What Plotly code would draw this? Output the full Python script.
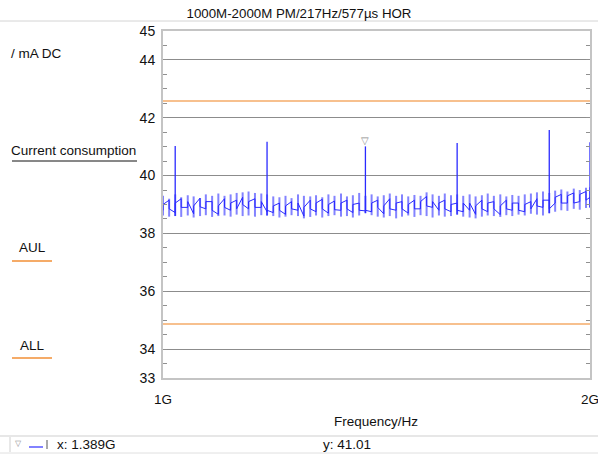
import math
import plotly.graph_objects as go

# ---------------- data ----------------
freq_mhz = [1000, 1010, 1020, 1030, 1041, 1051, 1062, 1072, 1083, 1094,
            1105, 1116, 1127, 1138, 1149, 1161, 1173, 1184, 1196, 1208,
            1220, 1232, 1245, 1257, 1270, 1282, 1295, 1308, 1321, 1335,
            1348, 1361, 1375, 1389, 1403, 1417, 1431, 1445, 1460, 1474,
            1489, 1504, 1519, 1534, 1549, 1565, 1580, 1596, 1612, 1628,
            1645, 1661, 1678, 1694, 1711, 1729, 1746, 1763, 1781, 1799,
            1817, 1835, 1853, 1872, 1890, 1909, 1928, 1948, 1967, 1987, 2000]

low_vals = [38.62, 38.58, 38.60, 38.57, 38.62, 38.55, 38.60, 38.63, 38.57, 38.60,
            38.62, 38.58, 38.65, 38.60, 38.62, 38.58, 38.63, 38.62, 38.60, 38.55,
            38.58, 38.63, 38.60, 38.52, 38.57, 38.62, 38.55, 38.60, 38.63, 38.58,
            38.60, 38.55, 38.62, 38.70, 38.63, 38.58, 38.55, 38.60, 38.52, 38.58,
            38.62, 38.57, 38.63, 38.60, 38.55, 38.62, 38.58, 38.60, 38.65, 38.58,
            38.55, 38.52, 38.58, 38.62, 38.60, 38.57, 38.63, 38.60, 38.65, 38.62,
            38.68, 38.65, 38.62, 38.70, 38.75, 38.80, 38.78, 38.85, 38.82, 38.88, 38.90]

high_vals = [39.30, 39.20, 39.35, 39.25, 39.32, 39.28, 39.22, 39.35, 39.30, 39.38,
             39.30, 39.35, 39.40, 39.42, 39.45, 39.40, 39.38, 39.35, 39.28, 39.25,
             39.30, 39.22, 39.35, 39.30, 39.28, 39.32, 39.25, 39.35, 39.30, 39.38,
             39.28, 39.32, 39.40, 39.30, 39.35, 39.28, 39.32, 39.38, 39.30, 39.35,
             39.28, 39.33, 39.30, 39.42, 39.35, 39.30, 39.38, 39.32, 39.35, 39.30,
             39.35, 39.28, 39.32, 39.38, 39.30, 39.35, 39.28, 39.33, 39.30, 39.35,
             39.38, 39.42, 39.45, 39.40, 39.48, 39.52, 39.45, 39.55, 39.50, 39.58, 39.60]

# current reading: value entering and leaving each frequency step
cur_in = [38.80, 39.15, 38.72, 39.20, 38.90, 38.68, 39.22, 38.85, 39.10, 38.66,
          39.20, 38.80, 39.15, 39.25, 38.85, 39.20, 38.90, 38.75, 38.72, 39.05,
          38.66, 39.10, 38.80, 38.60, 39.15, 38.75, 39.18, 38.70, 39.12, 38.80,
          39.15, 38.72, 39.05, 38.78, 38.75, 39.15, 38.68, 39.20, 38.80, 39.10,
          38.70, 39.15, 38.85, 39.28, 38.90, 38.80, 39.15, 38.75, 39.05, 38.75,
          38.80, 38.66, 39.15, 38.75, 39.10, 38.65, 39.15, 38.80, 39.05, 38.75,
          39.10, 39.20, 38.90, 39.15, 39.05, 39.35, 39.05, 39.40, 39.10, 39.45, 39.25]
cur_out = [39.00, 38.85, 39.05, 38.90, 39.10, 38.95, 38.92, 39.10, 38.80, 38.95,
           38.90, 39.05, 38.85, 39.00, 39.10, 38.90, 39.10, 38.80, 38.95, 38.80,
           38.95, 38.85, 39.05, 38.90, 38.85, 39.05, 38.85, 39.00, 38.82, 39.05,
           38.85, 39.00, 38.80, 38.80, 39.05, 38.90, 38.95, 38.85, 39.05, 38.85,
           39.00, 38.85, 39.10, 38.95, 39.10, 39.05, 38.85, 39.00, 38.80, 39.05,
           39.05, 38.95, 38.85, 39.05, 38.85, 38.95, 38.85, 39.05, 38.80, 39.00,
           38.85, 38.95, 39.15, 38.85, 39.25, 39.05, 39.30, 39.05, 39.35, 39.15, 39.20]

spike_idx = [2, 17, 33, 48, 63, 70]
spike_peak = [41.02, 41.17, 41.01, 41.13, 41.58, 41.15]

aul_value = 42.58
all_value = 34.87

marker_idx = 33
marker_x_text = "x: 1.389G"
marker_y_text = "y: 41.01"

y_tick_vals = [33, 34, 36, 38, 40, 42, 44, 45]
x_tick_vals_hz = [1e9, 2e9]
x_tick_text = ["1G", "2G"]

title_text = "1000M-2000M PM/217Hz/577µs HOR"

# ---------------- geometry helpers (layout only) ----------------
W, H = 598, 454
L, R, T, B = 163, 8, 31, 76
PW = W - L - R
PH = H - T - B


def px(xp):
    return (xp - L) / PW


def py(yp):
    return (H - B - yp) / PH


freq_hz = [f * 1e6 for f in freq_mhz]

# ---------------- traces ----------------
bx, by = [], []
for f, lo, hi in zip(freq_hz, low_vals, high_vals):
    bx += [f, f, None]
    by += [lo, hi, None]

lx, ly = [], []
for f, a, b in zip(freq_hz, cur_in, cur_out):
    lx += [f, f]
    ly += [a, b]

sx, sy = [], []
for i, pk in zip(spike_idx, spike_peak):
    sx += [freq_hz[i], freq_hz[i], None]
    sy += [low_vals[i], pk, None]

orange = "#f5ab68"
blue = "#2a2aff"

fig = go.Figure()
fig.add_trace(go.Scatter(x=bx, y=by, mode="lines",
                         line=dict(color="rgba(100,100,255,0.8)", width=2),
                         hoverinfo="skip", showlegend=False))
fig.add_trace(go.Scatter(x=lx, y=ly, mode="lines",
                         line=dict(color=blue, width=1),
                         showlegend=False))
fig.add_trace(go.Scatter(x=sx, y=sy, mode="lines",
                         line=dict(color=blue, width=1.3),
                         showlegend=False))
fig.add_trace(go.Scatter(x=[freq_hz[0], freq_hz[-1]], y=[aul_value, aul_value],
                         mode="lines", line=dict(color=orange, width=1.3),
                         showlegend=False))
fig.add_trace(go.Scatter(x=[freq_hz[0], freq_hz[-1]], y=[all_value, all_value],
                         mode="lines", line=dict(color=orange, width=1.5),
                         showlegend=False))

font_main = "Liberation Sans, Arial, sans-serif"
tc = "#111111"
fs = 13.5

annotations = [
    dict(x=math.log10(freq_hz[marker_idx]), y=spike_peak[spike_idx.index(marker_idx)],
         xref="x", yref="y", text="▽", showarrow=False, yanchor="bottom",
         font=dict(size=10, color="#8a8a8a"), yshift=-2),
    dict(x=px(9), y=py(53), xref="paper", yref="paper", text="/ mA DC",
         showarrow=False, xanchor="left", yanchor="middle",
         font=dict(size=fs, color=tc)),
    dict(x=px(9), y=py(150), xref="paper", yref="paper", text="Current consumption",
         showarrow=False, xanchor="left", yanchor="middle",
         font=dict(size=fs, color=tc)),
    dict(x=px(17), y=py(247), xref="paper", yref="paper", text="AUL",
         showarrow=False, xanchor="left", yanchor="middle",
         font=dict(size=fs, color=tc)),
    dict(x=px(18), y=py(345), xref="paper", yref="paper", text="ALL",
         showarrow=False, xanchor="left", yanchor="middle",
         font=dict(size=fs, color=tc)),
    dict(x=px(376), y=py(421), xref="paper", yref="paper", text="Frequency/Hz",
         showarrow=False, xanchor="center", yanchor="middle",
         font=dict(size=fs, color=tc)),
    dict(x=px(55), y=py(444), xref="paper", yref="paper", text=marker_x_text,
         showarrow=False, xanchor="left", yanchor="middle",
         font=dict(size=fs, color=tc)),
    dict(x=px(321), y=py(444), xref="paper", yref="paper", text=marker_y_text,
         showarrow=False, xanchor="left", yanchor="middle",
         font=dict(size=fs, color=tc)),
    dict(x=px(13), y=py(443), xref="paper", yref="paper", text="▽",
         showarrow=False, xanchor="left", yanchor="middle",
         font=dict(size=8, color="#909090")),
]

shapes = [
    dict(type="line", xref="paper", yref="paper", x0=px(0), x1=px(598),
         y0=py(21), y1=py(21), line=dict(color="#d4d4d4", width=1)),
    dict(type="line", xref="paper", yref="paper", x0=px(12), x1=px(137),
         y0=py(161), y1=py(161), line=dict(color=tc, width=1)),
    dict(type="line", xref="paper", yref="paper", x0=px(12), x1=px(52),
         y0=py(261), y1=py(261), line=dict(color=orange, width=2)),
    dict(type="line", xref="paper", yref="paper", x0=px(12), x1=px(52),
         y0=py(358), y1=py(358), line=dict(color=orange, width=2)),
    dict(type="line", xref="paper", yref="paper", x0=px(0), x1=px(598),
         y0=py(436), y1=py(436), line=dict(color="#cfcfcf", width=1)),
    dict(type="line", xref="paper", yref="paper", x0=px(0), x1=px(598),
         y0=py(453), y1=py(453), line=dict(color="#e0e0e0", width=1)),
    dict(type="line", xref="paper", yref="paper", x0=px(10), x1=px(10),
         y0=py(437), y1=py(452), line=dict(color="#d0d0d0", width=1)),
    dict(type="line", xref="paper", yref="paper", x0=px(29), x1=px(43),
         y0=py(447), y1=py(447), line=dict(color="#3030ff", width=1.2)),
    dict(type="line", xref="paper", yref="paper", x0=px(47), x1=px(47),
         y0=py(440), y1=py(449), line=dict(color="#555555", width=1)),
]

fig.update_layout(
    width=W, height=H,
    margin=dict(l=L, r=R, t=T, b=B, autoexpand=False),
    paper_bgcolor="white", plot_bgcolor="white",
    font=dict(family=font_main, size=13, color=tc),
    title=dict(text=title_text, x=0.5, xanchor="center", xref="container",
               y=1 - 13 / H, yanchor="middle", yref="container",
               automargin=False,
               font=dict(size=13.3, color=tc, family=font_main)),
    annotations=annotations,
    shapes=shapes,
    showlegend=False,
)

fig.update_xaxes(
    type="log", range=[9, 9.301029995663981],
    tickvals=x_tick_vals_hz, ticktext=x_tick_text,
    ticks="inside", ticklen=4, tickcolor="#909090",
    showline=True, linecolor="#c4c4c4", linewidth=2, mirror="ticks",
    showgrid=False, zeroline=False, automargin=False,
    tickfont=dict(size=13.5, color=tc),
    ticklabelstandoff=8, ticklabeloverflow="allow",
)
fig.update_yaxes(
    range=[33, 45],
    tickvals=y_tick_vals,
    ticks="inside", ticklen=4, tickcolor="#909090",
    minor=dict(dtick=0.5, ticks="inside", ticklen=4, tickcolor="#909090", showgrid=False),
    showline=True, linecolor="#c4c4c4", linewidth=2, mirror="ticks",
    showgrid=True, gridcolor="#8c8c8c", gridwidth=1,
    zeroline=False, automargin=False,
    tickfont=dict(size=14, color=tc),
    ticklabelstandoff=3,
)

fig.write_html("out.html")
